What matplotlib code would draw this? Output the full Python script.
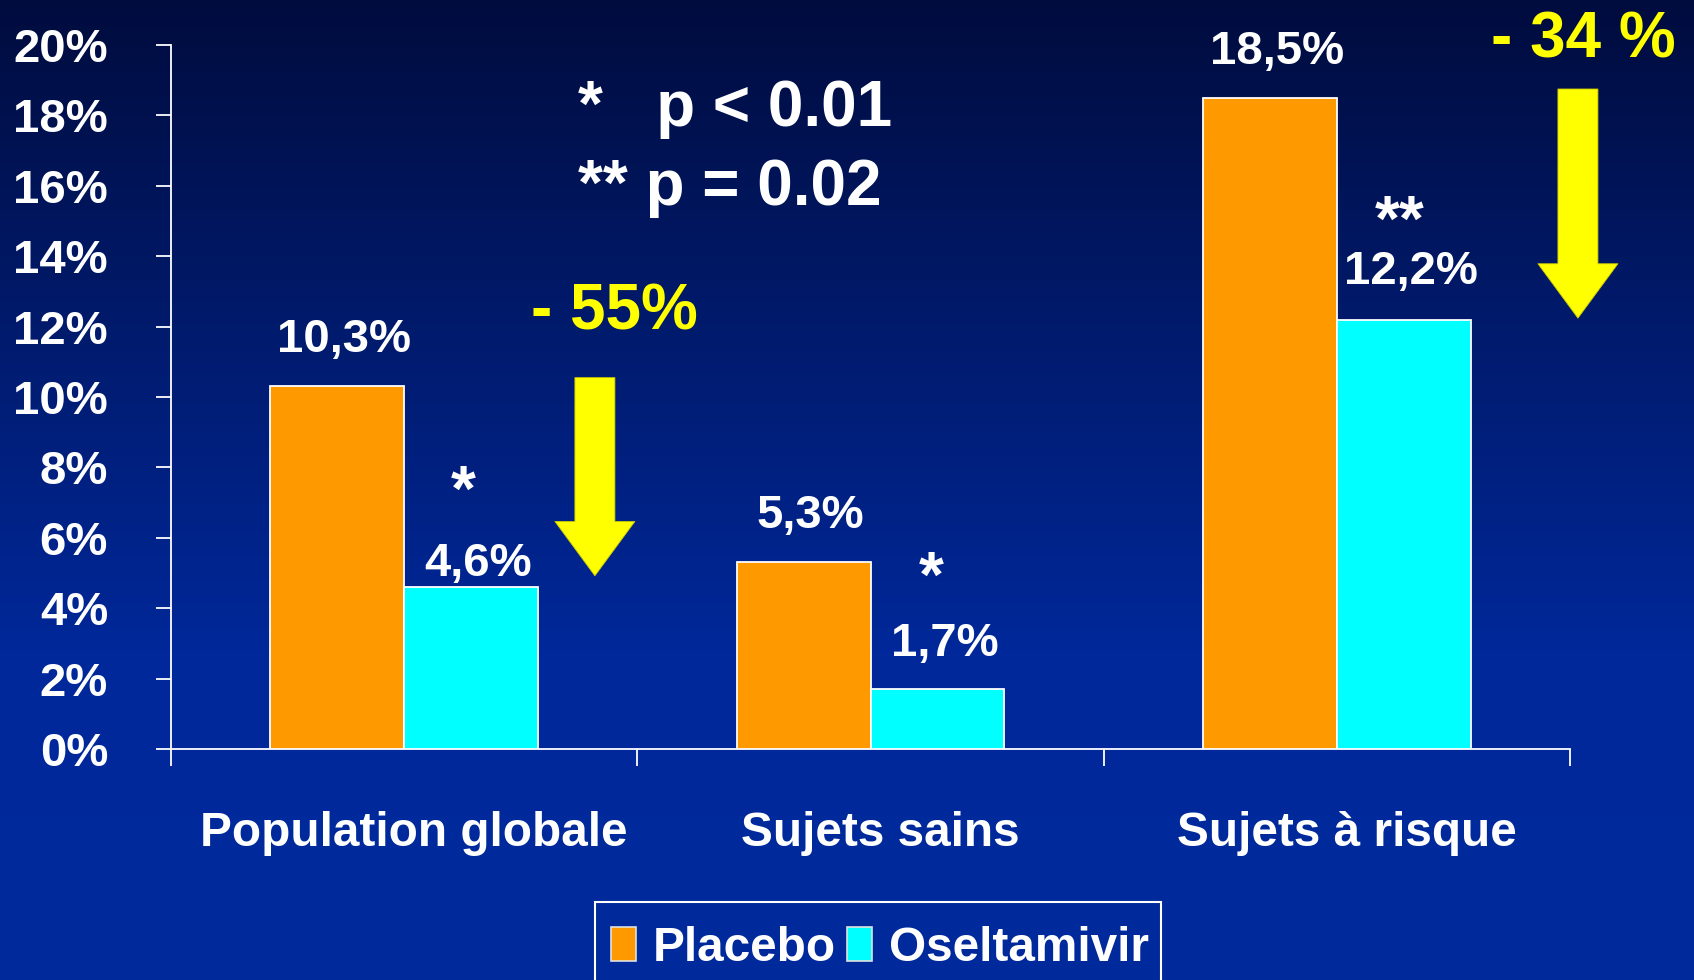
import numpy as np
import matplotlib
matplotlib.use('Agg')
import matplotlib.pyplot as plt
from matplotlib.colors import LinearSegmentedColormap
from matplotlib.patches import Patch, Rectangle
from matplotlib.transforms import ScaledTranslation


categories = ['Population globale', 'Sujets sains', 'Sujets à risque']
series_names = ['Placebo', 'Oseltamivir']
placebo = [10.3, 5.3, 18.5]
oseltamivir = [4.6, 1.7, 12.2]
placebo_labels = ['10,3%', '5,3%', '18,5%']
oseltamivir_labels = ['4,6%', '1,7%', '12,2%']
significance = ['*', '*', '**']
y_ticks = [0, 2, 4, 6, 8, 10, 12, 14, 16, 18, 20]
y_tick_labels = ['%d%%' % v for v in y_ticks]

ORANGE = '#FF9900'
CYAN = '#00FFFF'
YELLOW = '#FFFF00'
BAR_W = 0.287

plt.rcParams['font.family'] = ['Liberation Sans', 'DejaVu Sans']
plt.rcParams['font.weight'] = 'bold'
FS = 34.4
BIG = 46

W, H = 1694, 980
fig = plt.figure(figsize=(W / 100, H / 100), dpi=100)


def px(x, y):
	"""Figure pixel (from top-left) to figure fraction."""
	return x / W, 1 - y / H


# dark navy gradient behind everything
bg = fig.add_axes([0, 0, 1, 1], zorder=-1)
cmap = LinearSegmentedColormap.from_list('bg', ['#000C3E', '#001A6C', '#00289A', '#002A9C'])
grad = np.linspace(0, 1, 256).reshape(-1, 1)
bg.imshow(grad, aspect='auto', cmap=cmap, extent=[0, 1, 0, 1], origin='upper')
bg.set_axis_off()

left, right = px(171, 0)[0], px(1570, 0)[0]
bottom, top = px(0, 749)[1], px(0, 45)[1]
ax = fig.add_axes([left, bottom, right - left, top - bottom])
ax.set_facecolor('none')

x = np.arange(len(categories))
ax.bar(x - BAR_W / 2, placebo, BAR_W, color=ORANGE, edgecolor='white', linewidth=1.3, zorder=3)
ax.bar(x + BAR_W / 2, oseltamivir, BAR_W, color=CYAN, edgecolor='white', linewidth=1.3, zorder=3)

ax.set_xlim(-0.5, 2.5)
ax.set_ylim(0, 20)

for s in ['top', 'right']:
	ax.spines[s].set_visible(False)
for s in ['left', 'bottom']:
	ax.spines[s].set_color('white')
	ax.spines[s].set_linewidth(1.3)

ax.set_yticks(y_ticks)
ax.set_yticklabels(y_tick_labels, fontsize=34, color='white', fontweight='bold')
ax.tick_params(axis='y', length=10.8, width=1.3, color='white', pad=34.5)

ax.set_xticks(x)
ax.set_xticklabels(categories, fontsize=FS, color='white', fontweight='bold')
ax.set_xticks([-0.5, 0.5, 1.5, 2.5], minor=True)
ax.tick_params(axis='x', which='major', length=0, pad=45)
ax.tick_params(axis='x', which='minor', length=12, width=1.3, color='white')
nudge = ScaledTranslation(0.10, 0, fig.dpi_scale_trans)
for lab in ax.get_xticklabels():
	lab.set_transform(lab.get_transform() + nudge)

# value labels above the bars
lifts = [[34, 34, 34], [11, 33, 36]]
star_lifts = [76, 92, 79]
star_dx = [-8, -6, -4]
for i in range(len(categories)):
	ax.annotate(placebo_labels[i], (x[i] - BAR_W / 2, placebo[i]), xytext=(7, lifts[0][i]),
				textcoords='offset pixels', ha='center', va='baseline',
				fontsize=34, color='white', fontweight='bold', annotation_clip=False)
	ax.annotate(oseltamivir_labels[i], (x[i] + BAR_W / 2, oseltamivir[i]), xytext=(7, lifts[1][i]),
				textcoords='offset pixels', ha='center', va='baseline',
				fontsize=34, color='white', fontweight='bold', annotation_clip=False)
	ax.annotate(significance[i], (x[i] + BAR_W / 2, oseltamivir[i]), xytext=(star_dx[i], star_lifts[i]),
				textcoords='offset pixels', ha='center', va='baseline',
				fontsize=BIG, color='white', fontweight='bold', annotation_clip=False)

# reduction arrows, placebo -> oseltamivir
arrow_style = 'simple,head_length=0.68,head_width=1.0,tail_width=0.5'
for i, ax_x, tip_gap in [(0, 0.409, 0.32), (2, 2.517, 0.04)]:
	ax.annotate('', xy=(ax_x, oseltamivir[i] + tip_gap), xytext=(ax_x, placebo[i] + 0.25),
				arrowprops=dict(arrowstyle=arrow_style, mutation_scale=57.6, fc=YELLOW,
								ec='#C8C800', lw=0.6, shrinkA=0, shrinkB=0),
				annotation_clip=False)

fig.text(*px(614, 329), '- 55%', fontsize=BIG, color=YELLOW, ha='center', va='baseline', fontweight='bold')
fig.text(*px(1583, 57), '- 34 %', fontsize=BIG, color=YELLOW, ha='center', va='baseline', fontweight='bold')

fig.text(*px(578, 126), '*   p < 0.01', fontsize=BIG, color='white', ha='left', va='baseline', fontweight='bold')
fig.text(*px(578, 205), '** p = 0.02', fontsize=BIG, color='white', ha='left', va='baseline', fontweight='bold')

# legend: frame runs off the bottom edge
fig.patches.append(Rectangle(px(595, 1000), (1161 - 595) / W, 98 / H, transform=fig.transFigure,
							 fill=False, edgecolor='white', linewidth=1.5))
handles = [Patch(facecolor=ORANGE, edgecolor='#E0E0E0', linewidth=1.2),
		   Patch(facecolor=CYAN, edgecolor='#E0E0E0', linewidth=1.2)]
leg = fig.legend(handles, series_names, loc='center left', bbox_to_anchor=px(611, 948),
				 ncol=2, fontsize=FS, frameon=False, borderaxespad=0, borderpad=0,
				 handlelength=0.53, handleheight=0.7, handletextpad=0.34, columnspacing=0.24)
for t in leg.get_texts():
	t.set_color('white')
	t.set_fontweight('bold')

fig.savefig('out.png', dpi=100)
